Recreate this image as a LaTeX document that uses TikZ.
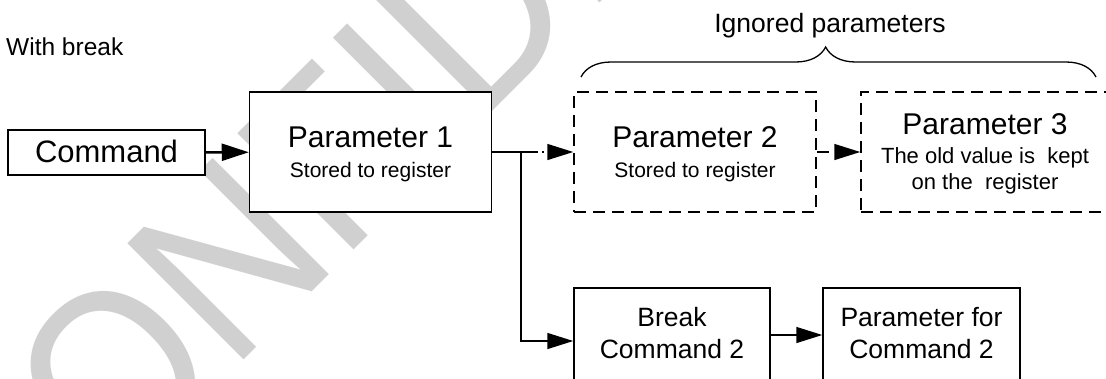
\documentclass[tikz,border=0pt]{standalone}
\usepackage{fontspec}
\setmainfont{Liberation Sans}
\usetikzlibrary{arrows.meta, decorations.pathreplacing}
\definecolor{wmark}{RGB}{208,208,208}

\begin{document}
\begin{tikzpicture}[
        x=1pt, y=-1pt,
        box/.style={draw, fill=white, line width=1.5pt, align=center, inner sep=0pt}, % solid box
        dbox/.style={box, dash pattern=on 12pt off 7pt}, % ignored parameter box
        arr/.style={line width=1.5pt, -{Triangle[length=26pt,width=16pt]}}, % plain arrow
        pbox/.style={minimum width=242pt, minimum height=120pt, text depth=0pt} % parameter size
    ]
    \useasboundingbox (0,0) rectangle (1106,378);

    % watermark behind everything
    \node[rotate=45, xscale=0.904, anchor=base west, text=wmark, inner sep=0pt,
          font=\fontsize{239}{239}\selectfont] (wm) at (2.2,601.6) {CONFIDENTIAL};

    \node[anchor=base west, inner sep=0pt, font=\fontsize{24.5}{28}\selectfont] (title) at (6,55) {With break};

    % first row
    \node[box, minimum width=197pt, minimum height=45pt, text depth=3pt,
          font=\fontsize{31}{31}\selectfont] (cmd) at (106.5,152.5) {Command};
    \node[box, pbox, font=\fontsize{21}{30}\selectfont] (p1) at (370.5,152)
        {{\fontsize{30}{30}\selectfont Parameter 1}\\Stored to register};
    \node[dbox, pbox, font=\fontsize{21}{30}\selectfont] (p2) at (695,152)
        {{\fontsize{30}{30}\selectfont Parameter 2}\\Stored to register};
    \node[dbox, pbox, minimum width=248pt, font=\fontsize{22}{26}\selectfont] (p3) at (985,152)
        {{\fontsize{30}{30}\selectfont Parameter 3}\\[3pt]The old value is~~kept\\on the~~register};

    % second row
    \node[box, minimum width=196pt, minimum height=94pt, text depth=5pt,
          font=\fontsize{26.5}{32}\selectfont] (brk) at (672,335) {Break\\Command 2};
    \node[box, minimum width=197pt, minimum height=94pt, text depth=5pt,
          font=\fontsize{26.5}{32}\selectfont] (pfc) at (921.5,335) {Parameter for\\Command 2};

    % brace over the ignored ones
    \draw[line width=1.3pt, decorate, decoration={brace, amplitude=30pt, aspect=0.475}]
        (581,77) -- (1096,77);
    \node[anchor=base, inner sep=0pt, font=\fontsize{26.5}{30}\selectfont] (ign) at (830,32) {Ignored parameters};

    % connectors
    \coordinate (jn) at (521,152);
    \draw[line width=2.5pt, -{Triangle[length=27pt,width=17pt]}] (cmd) -- (p1);
    \draw[line width=1.5pt] (p1.east) -- (jn);
    \draw[arr, dash pattern=on 17pt off 4pt on 2pt off 4pt] (jn) -- (p2.west);
    \draw[arr] (jn) |- ([yshift=-6pt]brk.west);
    \draw[arr, dash pattern=on 12pt off 6pt] (p2) -- (p3);
    \draw[arr] (brk) -- (pfc);

\end{tikzpicture}
\end{document}
